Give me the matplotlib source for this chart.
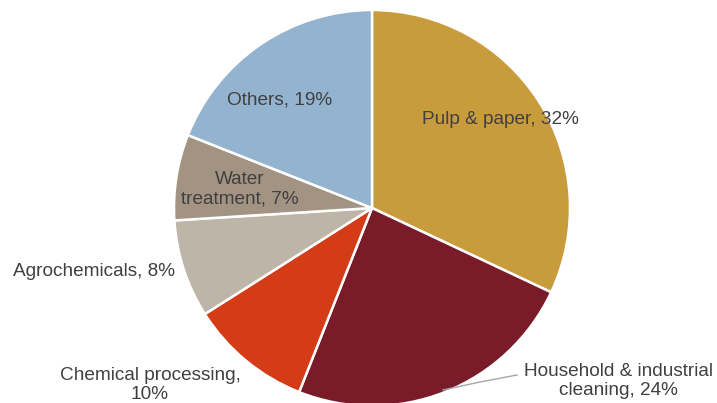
import matplotlib
matplotlib.use("Agg")
import matplotlib.pyplot as plt

categories = ["Pulp & paper", "Household & industrial cleaning", "Chemical processing",
              "Agrochemicals", "Water treatment", "Others"]
labels = ["Pulp & paper, 32%", "Household & industrial\ncleaning, 24%", "Chemical processing,\n10%",
          "Agrochemicals, 8%", "Water\ntreatment, 7%", "Others, 19%"]
values = [32, 24, 10, 8, 7, 19]
colors = ["#C89B3C", "#7A1B2A", "#D43B17", "#BDB5A7", "#A29383", "#93B3CF"]

W, H = 717, 403
fig = plt.figure(figsize=(W / 100, H / 100), dpi=100)
ax = fig.add_axes([0, 0, 1, 1])

cx, cy, r = 372, H - 208, 198
wedges, _ = ax.pie(values, colors=colors, startangle=90, counterclock=False,
                   center=(cx, cy), radius=r, frame=True,
                   wedgeprops=dict(edgecolor="white", linewidth=1.8))
ax.set_xlim(0, W)
ax.set_ylim(0, H)
ax.set_aspect("equal")
ax.axis("off")

font = dict(family="Liberation Sans", fontsize=13.7, color="#404040", ha="center", va="center",
            linespacing=1.2)
label_pos = [(500, 120), (618, 381), (150, 385), (94, 271), (240, 189), (280, 100)]
for lab, (x, y) in zip(labels, label_pos):
    ax.text(x, H - y, lab, **font)

# leader line for Household & industrial cleaning
ax.plot([443, 480, 517], [H - 390, H - 382, H - 375], color="#A6A6A6", lw=1.0)

fig.savefig("out.png", dpi=100)
